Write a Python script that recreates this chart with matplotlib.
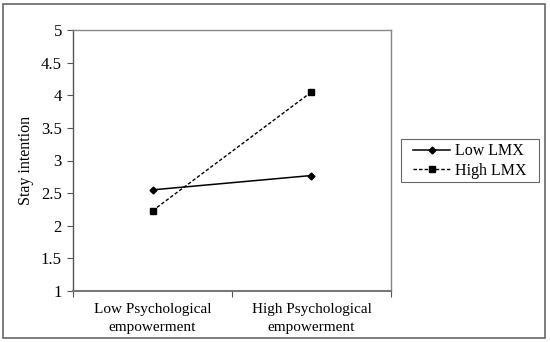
import matplotlib
matplotlib.use("Agg")
import matplotlib.pyplot as plt
from matplotlib.patches import Rectangle

categories = ["Low Psychological\nempowerment", "High Psychological\nempowerment"]
low_lmx = [2.55, 2.77]
high_lmx = [2.23, 4.05]
yticks = [1, 1.5, 2, 2.5, 3, 3.5, 4, 4.5, 5]
ytick_labels = ["1", "1.5", "2", "2.5", "3", "3.5", "4", "4.5", "5"]

plt.rcParams['font.family'] = ['Liberation Serif', 'DejaVu Serif']

W, H = 550, 342
fig = plt.figure(figsize=(W/100, H/100), dpi=100)
ax = fig.add_axes([73/W, 1-291/H, (391-73)/W, (291-30)/H])

x = [0.5, 1.5]
ax.plot(x, low_lmx, color='black', lw=1.1, marker='D', ms=3.5, label='Low LMX')
ax.plot(x, high_lmx, color='black', lw=1.0, ls=(0, (2.5, 1.5)), marker='s', ms=5, label='High LMX')

ax.set_xlim(0, 2)
ax.set_ylim(1, 5)
ax.set_yticks(yticks)
ax.set_yticklabels(ytick_labels)
ax.set_xticks([0, 1, 2])
ax.set_xticklabels([])
ax.set_xticks(x, minor=True)
ax.set_xticklabels(categories, minor=True, fontsize=11, linespacing=1.4)
ax.tick_params(axis='x', which='minor', length=0, pad=9)
ax.tick_params(axis='x', which='major', length=4, direction='out', color='#555555')
ax.tick_params(axis='y', length=4, direction='out', labelsize=12, color='#555555', pad=4)
for s in ax.spines.values():
    s.set_color('#888888')
    s.set_linewidth(1.0)
ax.spines['left'].set_color('#555555')
ax.spines['bottom'].set_color('#777777')
ax.spines['bottom'].set_linewidth(1.5)
ax.set_ylabel('Stay intention', fontsize=11.5, labelpad=5)

leg = fig.legend(loc='center', bbox_to_anchor=(470/W, 1-161/H), fontsize=11.5,
                 frameon=False, handlelength=2.3, handletextpad=0.3, labelspacing=0.2)

fig.patches.append(Rectangle((401/W, 1-182/H), (539-401)/W, (182-139)/H, transform=fig.transFigure,
                             fill=False, edgecolor='#666666', lw=0.8))
fig.patches.append(Rectangle((3/W, 4/H), (545-3)/W, (338-4)/H, transform=fig.transFigure,
                             fill=False, edgecolor='#666666', lw=1.2))

fig.savefig('out.png', dpi=100)
